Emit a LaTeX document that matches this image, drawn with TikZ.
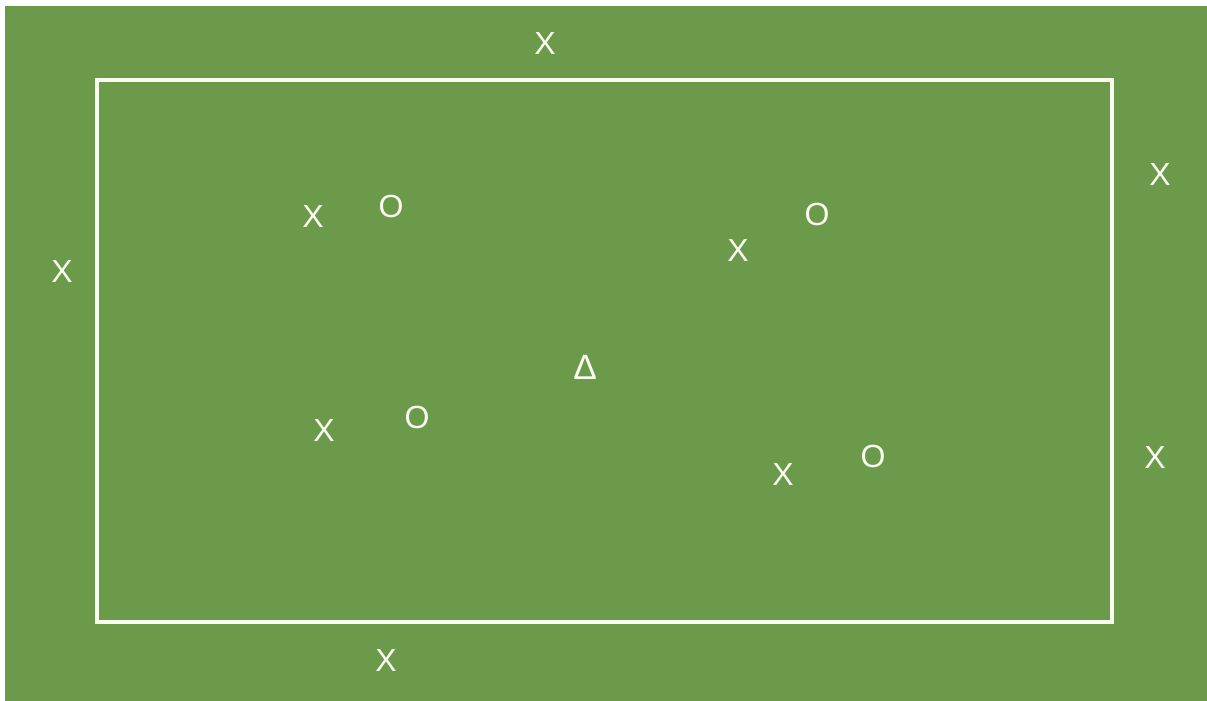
\documentclass[tikz,border=0pt]{standalone}
\usepackage{fontspec}
\setmainfont{Liberation Sans}
\definecolor{grass}{RGB}{106,154,74}
\definecolor{chalk}{RGB}{250,252,240}
\tikzset{
  player/.style={text=chalk, font=\fontsize{32}{34}\selectfont, inner sep=0pt, anchor=center},
  pitchline/.style={draw=chalk, line width=4pt}
}
\begin{document}
\begin{tikzpicture}[x=1pt,y=-1pt]
\useasboundingbox (0,0) rectangle (1207,701);
\fill[white] (0,0) rectangle (1207,701);
\fill[grass] (5,6) rectangle (1207,701);
\draw[pitchline] (97,80) rectangle (1112,622);
\node[player] (xtop) at (545,43) {X};
\node[player] (xleft) at (62,271) {X};
\node[player] (xright1) at (1160,174) {X};
\node[player] (xright2) at (1155,457) {X};
\node[player] (xbottom) at (386,660) {X};
\node[player] (x1) at (313,216) {X};
\node[player] (o1) at (391,206) {O};
\node[player] (x2) at (738,250) {X};
\node[player] (o2) at (817,214) {O};
\node[player, scale=1.1] (tri) at (585,367) {Δ};
\node[player] (x3) at (324,430) {X};
\node[player] (o3) at (417,417) {O};
\node[player] (x4) at (783,474) {X};
\node[player] (o4) at (873,456) {O};
\end{tikzpicture}
\end{document}
